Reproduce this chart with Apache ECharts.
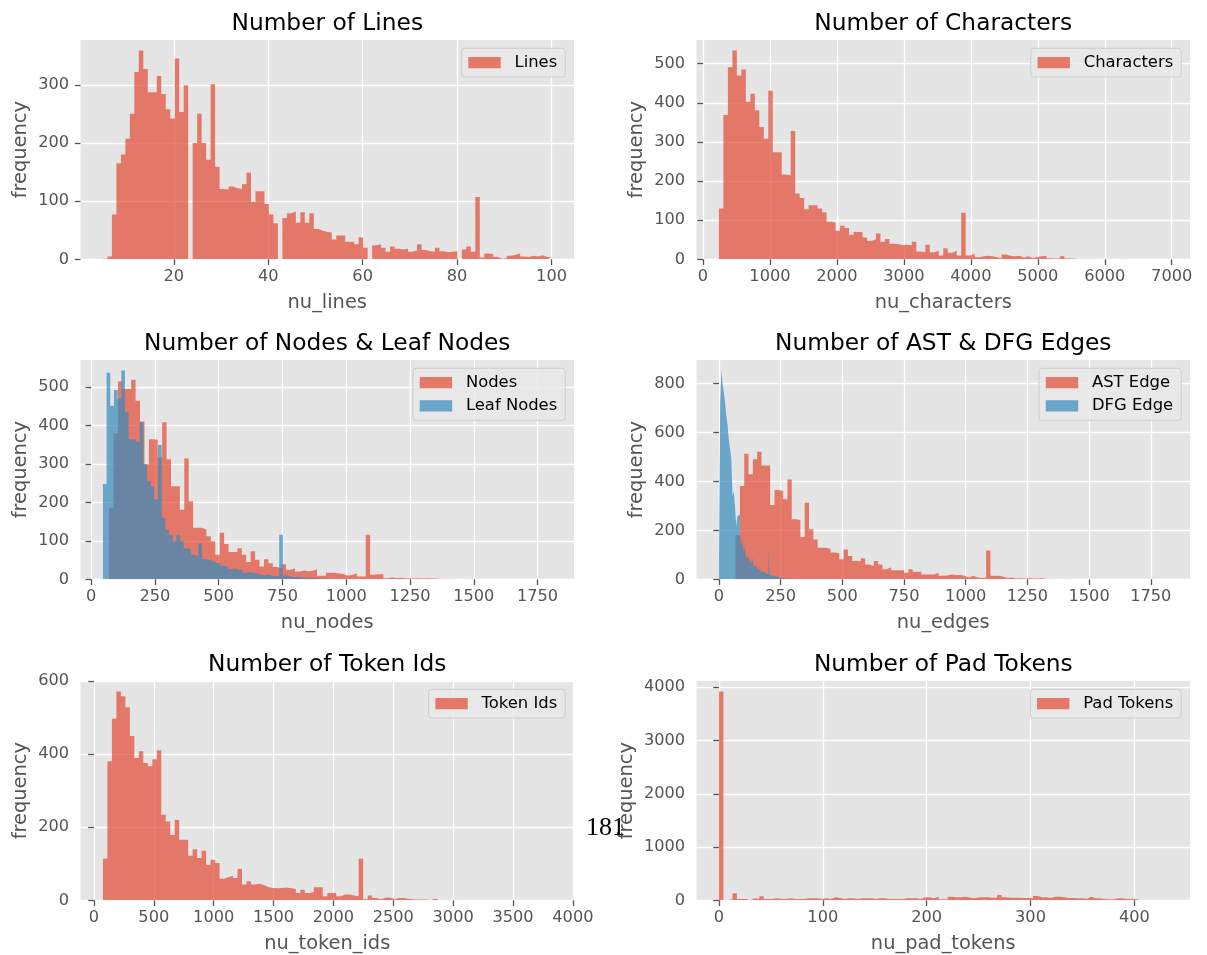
<!DOCTYPE html>
<html>
<head>
<meta charset="utf-8">
<script src="https://cdn.jsdelivr.net/npm/echarts@6/dist/echarts.min.js"></script>
<style>
  html, body { margin: 0; padding: 0; background: #ffffff; }
  #chart { width: 1207px; height: 955px; }
</style>
</head>
<body>
<div id="chart"></div>
<script>
// Histogram counts: 100 equal-width bins spanning each [min, max] range.

const lineRange = [5, 100];
const lineCounts = [1, 5, 77, 165, 180, 207, 250, 322, 359, 327, 287, 287, 315, 284, 258, 242, 345, 253, 299, 0,
  200, 250, 200, 171, 301, 159, 121, 120, 125, 122, 121, 129, 149, 99, 117, 117, 95, 77, 62, 0,
  71, 79, 82, 63, 81, 63, 79, 52, 49, 47, 46, 34, 41, 41, 30, 30, 26, 38, 20, 0,
  24, 26, 20, 13, 22, 18, 17, 18, 13, 15, 26, 16, 14, 13, 20, 14, 12, 13, 14, 0,
  17, 22, 13, 107, 3, 10, 9, 4, 1, 2, 6, 8, 10, 5, 4, 6, 5, 7, 4, 3];

const charRange = [238, 6938];
const charCounts = [130, 369, 491, 534, 470, 485, 403, 423, 381, 338, 308, 431, 274, 274, 217, 215, 328, 168, 157, 128,
  138, 138, 130, 120, 96, 94, 73, 86, 80, 63, 70, 70, 56, 47, 51, 66, 45, 52, 40, 39,
  36, 37, 36, 45, 20, 18, 37, 18, 22, 10, 28, 17, 22, 10, 119, 10, 14, 5, 8, 9,
  8, 5, 3, 12, 9, 8, 9, 4, 8, 3, 6, 8, 9, 3, 2, 2, 8, 2, 2, 1,
  1, 0, 1, 0, 0, 1, 0, 0, 0, 1, 0, 0, 0, 0, 0, 0, 0, 0, 0, 1];

const nodeRange = [70, 1805];
const nodeCounts = [186, 380, 514, 495, 495, 519, 464, 410, 299, 364, 363, 316, 408, 312, 242, 242, 181, 314, 203, 134,
  134, 129, 112, 99, 64, 121, 92, 71, 71, 81, 64, 45, 73, 51, 33, 52, 42, 32, 29, 39,
  25, 29, 20, 23, 21, 22, 26, 9, 9, 17, 17, 15, 14, 9, 12, 15, 7, 7, 116, 12,
  13, 13, 3, 5, 3, 4, 3, 3, 2, 3, 2, 3, 2, 2, 1, 1, 0, 1, 0, 0,
  0, 1, 0, 0, 0, 0, 0, 0, 0, 0, 0, 0, 0, 0, 0, 0, 0, 0, 0, 1];

const leafRange = [46, 1486];
const leafCounts = [248, 537, 451, 492, 470, 543, 434, 364, 363, 357, 408, 299, 255, 242, 208, 349, 160, 129, 116, 99,
  116, 99, 81, 78, 64, 60, 93, 52, 51, 47, 43, 42, 35, 33, 26, 28, 24, 26, 17, 19,
  17, 15, 13, 10, 13, 10, 8, 8, 116, 10, 8, 6, 6, 5, 5, 4, 4, 3, 3, 2,
  2, 1, 1, 1, 0, 1, 0, 1, 0, 0, 1, 0, 0, 0, 0, 0, 0, 0, 0, 0,
  0, 0, 0, 0, 0, 0, 0, 0, 0, 0, 0, 0, 0, 0, 0, 0, 0, 0, 0, 1];

const astRange = [67.5, 1818];
const astCounts = [180, 381, 513, 429, 490, 521, 465, 465, 303, 365, 361, 327, 408, 245, 242, 173, 313, 204, 163, 129,
  129, 125, 109, 106, 82, 122, 95, 75, 75, 86, 60, 54, 75, 60, 41, 49, 37, 37, 37, 27,
  41, 31, 31, 20, 20, 20, 27, 14, 16, 20, 18, 18, 15, 7, 15, 7, 5, 6, 118, 14,
  14, 10, 5, 7, 3, 4, 3, 4, 3, 3, 4, 1, 0, 1, 0, 0, 1, 0, 0, 0,
  0, 0, 0, 0, 0, 0, 0, 0, 0, 0, 0, 0, 0, 0, 0, 0, 0, 0, 0, 1];

const dfgRange = [0, 500];
const dfgCounts = [68, 714, 853, 796, 762, 721, 667, 630, 571, 533, 493, 340, 360, 299, 218, 258, 265, 184, 136, 163,
  109, 129, 89, 92, 71, 82, 61, 89, 54, 50, 65, 41, 39, 54, 30, 33, 27, 25, 27, 20,
  122, 20, 14, 16, 14, 11, 11, 7, 7, 6, 5, 5, 4, 4, 3, 3, 3, 2, 2, 2,
  1, 0, 1, 0, 0, 1, 0, 0, 0, 1, 0, 0, 0, 0, 0, 0, 0, 0, 0, 0,
  0, 0, 0, 0, 0, 0, 0, 0, 0, 0, 0, 0, 0, 0, 0, 0, 0, 0, 0, 1];

const tokenRange = [75, 3822];
const tokenCounts = [114, 381, 497, 572, 559, 529, 450, 390, 408, 376, 367, 386, 411, 234, 216, 179, 220, 166, 166, 122,
  140, 116, 136, 97, 111, 102, 59, 64, 67, 61, 86, 43, 52, 43, 45, 41, 36, 34, 33, 34,
  35, 33, 31, 20, 29, 20, 23, 36, 36, 11, 20, 20, 11, 16, 16, 13, 11, 114, 3, 13,
  6, 3, 7, 8, 3, 6, 6, 4, 3, 2, 2, 2, 1, 4, 1, 0, 1, 0, 0, 1,
  0, 0, 0, 0, 0, 0, 0, 0, 0, 0, 0, 0, 0, 0, 0, 0, 0, 0, 0, 1];

const padRange = [0, 432];
const padCounts = [3921, 5, 20, 131, 24, 24, 6, 40, 24, 75, 24, 24, 37, 24, 24, 37, 24, 24, 24, 37,
  37, 37, 24, 37, 24, 56, 43, 24, 37, 37, 24, 37, 37, 37, 24, 37, 37, 24, 24, 24,
  24, 37, 37, 37, 24, 56, 56, 40, 72, 18, 18, 68, 56, 56, 68, 49, 37, 56, 56, 56,
  49, 49, 100, 56, 49, 49, 49, 43, 43, 37, 81, 56, 56, 43, 68, 68, 56, 43, 43, 37,
  37, 31, 68, 37, 37, 24, 18, 18, 37, 37, 24, 24, 24, 0, 0, 0, 0, 0, 0, 1];

// Tick values shown on each axis
const lineXTicks = [20, 40, 60, 80, 100];
const lineYTicks = [0, 100, 200, 300];
const charXTicks = [0, 1000, 2000, 3000, 4000, 5000, 6000, 7000];
const charYTicks = [0, 100, 200, 300, 400, 500];
const nodeXTicks = [0, 250, 500, 750, 1000, 1250, 1500, 1750];
const nodeYTicks = [0, 100, 200, 300, 400, 500];
const edgeXTicks = [0, 250, 500, 750, 1000, 1250, 1500, 1750];
const edgeYTicks = [0, 200, 400, 600, 800];
const tokenXTicks = [0, 500, 1000, 1500, 2000, 2500, 3000, 3500, 4000];
const tokenYTicks = [0, 200, 400, 600];
const padXTicks = [0, 100, 200, 300, 400];
const padYTicks = [0, 1000, 2000, 3000, 4000];

const RED = '#E24A33';
const BLUE = '#348ABD';
const FONT = 'DejaVu Sans';

const panels = [
  { title: 'Number of Lines', xName: 'nu_lines', xTicks: lineXTicks, yTicks: lineYTicks,
    hists: [{ name: 'Lines', range: lineRange, counts: lineCounts, color: RED }] },
  { title: 'Number of Characters', xName: 'nu_characters', xTicks: charXTicks, yTicks: charYTicks,
    hists: [{ name: 'Characters', range: charRange, counts: charCounts, color: RED }] },
  { title: 'Number of Nodes & Leaf Nodes', xName: 'nu_nodes', xTicks: nodeXTicks, yTicks: nodeYTicks,
    hists: [{ name: 'Nodes', range: nodeRange, counts: nodeCounts, color: RED },
            { name: 'Leaf Nodes', range: leafRange, counts: leafCounts, color: BLUE }] },
  { title: 'Number of AST & DFG Edges', xName: 'nu_edges', xTicks: edgeXTicks, yTicks: edgeYTicks,
    hists: [{ name: 'AST Edge', range: astRange, counts: astCounts, color: RED },
            { name: 'DFG Edge', range: dfgRange, counts: dfgCounts, color: BLUE }] },
  { title: 'Number of Token Ids', xName: 'nu_token_ids', xTicks: tokenXTicks, yTicks: tokenYTicks,
    hists: [{ name: 'Token Ids', range: tokenRange, counts: tokenCounts, color: RED }] },
  { title: 'Number of Pad Tokens', xName: 'nu_pad_tokens', xTicks: padXTicks, yTicks: padYTicks,
    hists: [{ name: 'Pad Tokens', range: padRange, counts: padCounts, color: RED }] }
];

// Plot-area layout (pixels)
const COL_LEFT = [80.5, 696.5];
const ROW_TOP = [40, 360, 681];
const PLOT_W = 493.5;
const PLOT_H = 219.3;

const TICK_FS = 16.2;
const LABEL_FS = 19.4;
const TITLE_FS = 23.3;
const LEGEND_FS = 16.4;
const TICK_LEN = 5.7;
const TICK_PAD = 5.7;

// Step outline of a histogram: left edge of every bin, then the right edge of the last one.
function histPoints(range, counts) {
  const n = counts.length;
  const w = (range[1] - range[0]) / n;
  const pts = counts.map((c, k) => [range[0] + k * w, c]);
  pts.push([range[1], counts[n - 1]]);
  return pts;
}

const grids = [], xAxes = [], yAxes = [], series = [], legends = [], graphics = [];

panels.forEach((p, i) => {
  const left = COL_LEFT[i % 2];
  const top = ROW_TOP[Math.floor(i / 2)];
  const lo = Math.min(...p.hists.map(h => h.range[0]));
  const hi = Math.max(...p.hists.map(h => h.range[1]));
  const pad = 0.05 * (hi - lo);
  const yMax = 1.05 * Math.max(...p.hists.map(h => Math.max(...h.counts)));
  const yLabelChars = Math.max(...p.yTicks.map(v => String(v).length));
  const yLabelW = yLabelChars * 0.636 * TICK_FS;

  grids.push({ left: left, top: top, width: PLOT_W, height: PLOT_H, show: true,
    backgroundColor: '#E5E5E5', borderWidth: 0 });

  xAxes.push({
    type: 'value', gridIndex: i, min: lo - pad, max: hi + pad,
    name: p.xName, nameLocation: 'middle', nameGap: 34.5,
    nameTextStyle: { color: '#555555', fontSize: LABEL_FS, fontFamily: FONT },
    axisLine: { show: false },
    axisTick: { show: true, length: TICK_LEN, customValues: p.xTicks, lineStyle: { color: '#555555', width: 1.3 } },
    axisLabel: { customValues: p.xTicks, color: '#555555', fontSize: TICK_FS, fontFamily: FONT, margin: 9.9,
      formatter: v => String(v) },
    splitLine: { show: true, lineStyle: { color: '#ffffff', width: 1.3 } }
  });

  yAxes.push({
    type: 'value', gridIndex: i, min: 0, max: yMax,
    name: 'frequency', nameLocation: 'middle', nameGap: yLabelW + 18.8,
    nameTextStyle: { color: '#555555', fontSize: LABEL_FS, fontFamily: FONT },
    axisLine: { show: false },
    axisTick: { show: true, length: TICK_LEN, customValues: p.yTicks, lineStyle: { color: '#555555', width: 1.3 } },
    axisLabel: { customValues: p.yTicks, color: '#555555', fontSize: TICK_FS, fontFamily: FONT,
      margin: TICK_LEN + TICK_PAD, formatter: v => String(v) },
    splitLine: { show: true, lineStyle: { color: '#ffffff', width: 1.3 } }
  });

  p.hists.forEach(h => {
    series.push({
      type: 'line', name: h.name, xAxisIndex: i, yAxisIndex: i,
      data: histPoints(h.range, h.counts),
      step: 'end', symbol: 'none', showSymbol: false, silent: true,
      lineStyle: { width: 0, opacity: 0 },
      itemStyle: { color: h.color, opacity: 0.7 },
      areaStyle: { color: h.color, opacity: 0.7 },
      emphasis: { disabled: true }
    });
  });

  legends.push({
    data: p.hists.map(h => ({ name: h.name, icon: 'rect', itemStyle: { color: h.color, opacity: 0.7 } })),
    orient: 'vertical', selectedMode: false,
    right: 1207 - (left + PLOT_W - 8.8), top: top + 8.3,
    itemWidth: 32.4, itemHeight: 11.3, itemGap: 7.2,
    padding: [6.4, 8, 6.4, 6.7],
    backgroundColor: 'rgba(233,233,233,0.8)', borderColor: '#cccccc', borderWidth: 1, borderRadius: 3,
    textStyle: { fontSize: LEGEND_FS, color: '#000000', fontFamily: FONT, padding: [0, 0, 0, 8.8] }
  });

  graphics.push({
    type: 'text', x: left + PLOT_W / 2, y: top - 16.3, silent: true,
    style: { text: p.title, fill: '#000000', font: TITLE_FS + 'px "' + FONT + '"', align: 'center', verticalAlign: 'middle' }
  });
});

// Page number printed over the lower right panel
graphics.push({
  type: 'text', x: 605.5, y: 828, silent: true, z: 100,
  style: { text: '181', fill: '#000000', font: '26px "Liberation Serif"', align: 'center', verticalAlign: 'middle' }
});

const chart = echarts.init(document.getElementById('chart'), null, { renderer: 'canvas' });
chart.setOption({
  animation: false,
  backgroundColor: '#ffffff',
  grid: grids, xAxis: xAxes, yAxis: yAxes, series: series, legend: legends,
  graphic: { elements: graphics }
});
</script>
</body>
</html>
